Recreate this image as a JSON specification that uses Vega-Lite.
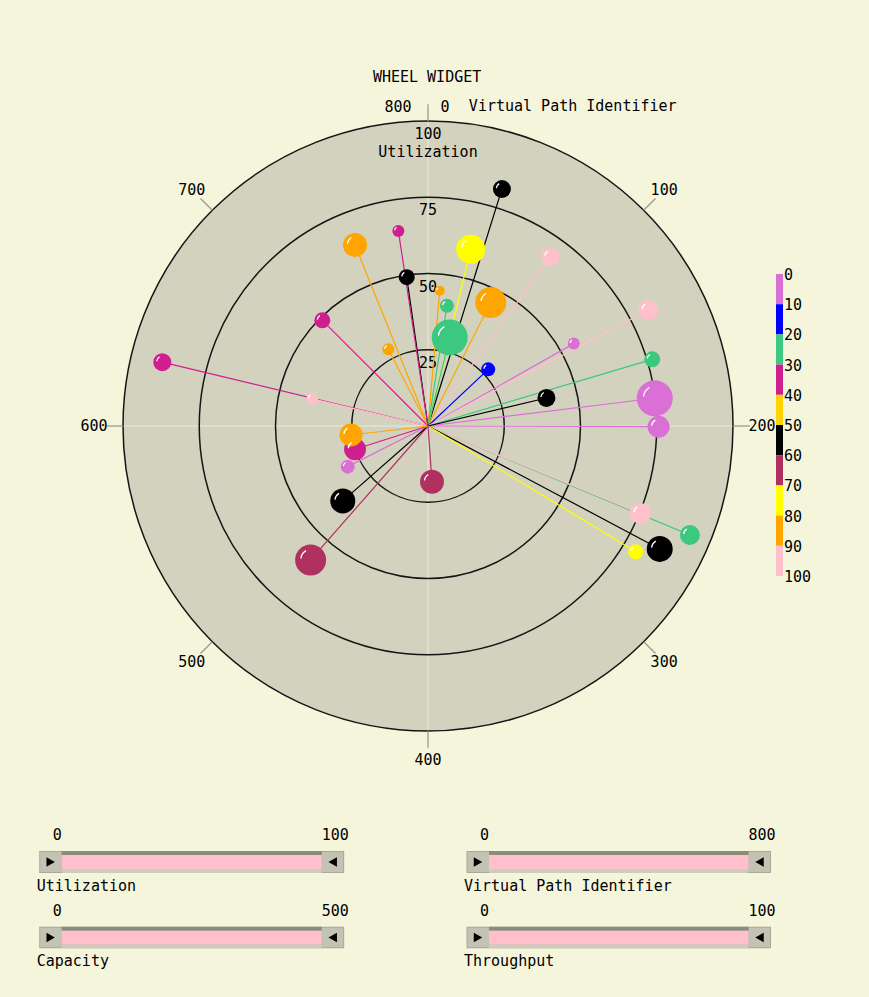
{
  "$schema": "https://vega.github.io/schema/vega-lite/v6.json",
  "width": 869,
  "height": 997,
  "autosize": {"type": "none"},
  "padding": 0,
  "background": "#f5f5dc",
  "config": {
    "view": {"stroke": null},
    "axis": {"disable": true},
    "text": {"font": "DejaVu Sans Mono", "fontSize": 15, "color": "#000000"}
  },
  "datasets": {
    "vc": [
      {"util": 81.4, "vpi": 38.5, "cap": 234, "thr": 55},
      {"util": 59.6, "vpi": 30.2, "cap": 377, "thr": 75},
      {"util": 68.5, "vpi": 79.7, "cap": 234, "thr": 95},
      {"util": 45.4, "vpi": 59.9, "cap": 403, "thr": 85},
      {"util": 44.5, "vpi": 11.0, "cap": 130, "thr": 85},
      {"util": 39.9, "vpi": 19.9, "cap": 182, "thr": 25},
      {"util": 29.9, "vpi": 30.6, "cap": 468, "thr": 25},
      {"util": 27.1, "vpi": 103.9, "cap": 182, "thr": 15},
      {"util": 54.9, "vpi": 134.5, "cap": 156, "thr": 5},
      {"util": 81.6, "vpi": 138.4, "cap": 260, "thr": 95},
      {"util": 76.7, "vpi": 163.2, "cap": 208, "thr": 25},
      {"util": 74.9, "vpi": 184.5, "cap": 468, "thr": 5},
      {"util": 75.6, "vpi": 200.4, "cap": 286, "thr": 5},
      {"util": 39.9, "vpi": 170.4, "cap": 234, "thr": 55},
      {"util": 93.0, "vpi": 250.2, "cap": 260, "thr": 25},
      {"util": 75.3, "vpi": 249.7, "cap": 273, "thr": 95},
      {"util": 86.0, "vpi": 262.1, "cap": 338, "thr": 55},
      {"util": 79.6, "vpi": 269.3, "cap": 195, "thr": 75},
      {"util": 18.3, "vpi": 390.9, "cap": 312, "thr": 65},
      {"util": 58.4, "vpi": 491.6, "cap": 403, "thr": 65},
      {"util": 37.2, "vpi": 508.2, "cap": 325, "thr": 55},
      {"util": 29.5, "vpi": 540.3, "cap": 182, "thr": 5},
      {"util": 25.1, "vpi": 560.7, "cap": 286, "thr": 35},
      {"util": 25.4, "vpi": 585.2, "cap": 299, "thr": 85},
      {"util": 89.6, "vpi": 630.0, "cap": 234, "thr": 35},
      {"util": 39.0, "vpi": 629.3, "cap": 156, "thr": 95},
      {"util": 49.0, "vpi": 700.0, "cap": 208, "thr": 35},
      {"util": 28.3, "vpi": 739.2, "cap": 156, "thr": 85},
      {"util": 64.0, "vpi": 751.2, "cap": 312, "thr": 85},
      {"util": 49.3, "vpi": 781.9, "cap": 208, "thr": 55},
      {"util": 64.7, "vpi": 780.8, "cap": 156, "thr": 35}
    ],
    "rings": [{"u": 25}, {"u": 50}, {"u": 75}, {"u": 100}],
    "spokes": [{"vpi": 0}, {"vpi": 100}, {"vpi": 200}, {"vpi": 300}, {"vpi": 400}, {"vpi": 500}, {"vpi": 600}, {"vpi": 700}],
    "blocks": [
      {"lo": 0, "hi": 10}, {"lo": 10, "hi": 20}, {"lo": 20, "hi": 30}, {"lo": 30, "hi": 40}, {"lo": 40, "hi": 50},
      {"lo": 50, "hi": 60}, {"lo": 60, "hi": 70}, {"lo": 70, "hi": 80}, {"lo": 80, "hi": 90}, {"lo": 90, "hi": 100}
    ],
    "legendTicks": [{"v": 0}, {"v": 10}, {"v": 20}, {"v": 30}, {"v": 40}, {"v": 50}, {"v": 60}, {"v": 70}, {"v": 80}, {"v": 90}, {"v": 100}]
  },
  "layer": [
    {
      "layer": [
        {
          "data": {"name": "rings"},
          "transform": [{"filter": "datum.u == 100"}, {"calculate": "0", "as": "c0"}],
          "mark": {"type": "point", "shape": "circle", "filled": true, "fill": "#d3d2be", "opacity": 1, "strokeWidth": 0},
          "encoding": {
            "x": {"field": "c0", "type": "quantitative", "scale": {"type": "linear", "domain": [-100, 100], "range": [123, 733], "nice": false, "zero": false}, "axis": null},
            "y": {"field": "c0", "type": "quantitative", "scale": {"type": "linear", "domain": [-100, 100], "range": [731, 121], "nice": false, "zero": false}, "axis": null},
            "size": {"field": "u", "type": "quantitative", "scale": {"type": "pow", "exponent": 2, "domain": [0, 100], "range": [0, 372100]}, "legend": null}
          }
        },
        {
          "data": {"name": "spokes"},
          "transform": [
            {"filter": "datum.vpi % 200 == 0"},
            {"calculate": "0", "as": "c0"},
            {"calculate": "100 * sin(datum.vpi / 800 * 2 * PI)", "as": "ax"},
            {"calculate": "100 * cos(datum.vpi / 800 * 2 * PI)", "as": "ay"}
          ],
          "mark": {"type": "rule", "color": "#ecebd8", "strokeWidth": 1},
          "encoding": {
            "x": {"field": "c0", "type": "quantitative"},
            "y": {"field": "c0", "type": "quantitative"},
            "x2": {"field": "ax"},
            "y2": {"field": "ay"}
          }
        },
        {
          "data": {"name": "rings"},
          "transform": [{"calculate": "0", "as": "c0"}],
          "mark": {"type": "point", "shape": "circle", "filled": false, "stroke": "#151515", "strokeWidth": 1.5, "opacity": 1},
          "encoding": {
            "x": {"field": "c0", "type": "quantitative"},
            "y": {"field": "c0", "type": "quantitative"},
            "size": {"field": "u", "type": "quantitative", "scale": {"type": "pow", "exponent": 2, "domain": [0, 100], "range": [0, 372100]}, "legend": null}
          }
        },
        {
          "data": {"name": "spokes"},
          "transform": [
            {"calculate": "100 * sin(datum.vpi / 800 * 2 * PI)", "as": "ax"},
            {"calculate": "100 * cos(datum.vpi / 800 * 2 * PI)", "as": "ay"},
            {"calculate": "105.5 * sin(datum.vpi / 800 * 2 * PI)", "as": "bx"},
            {"calculate": "105.5 * cos(datum.vpi / 800 * 2 * PI)", "as": "by"}
          ],
          "mark": {"type": "rule", "color": "#9a9a8a", "strokeWidth": 1.3},
          "encoding": {
            "x": {"field": "ax", "type": "quantitative"},
            "y": {"field": "ay", "type": "quantitative"},
            "x2": {"field": "bx"},
            "y2": {"field": "by"}
          }
        },
        {
          "data": {"name": "spokes"},
          "transform": [
            {"filter": "datum.vpi > 0"},
            {"calculate": "109.5 * sin(datum.vpi / 800 * 2 * PI)", "as": "lx"},
            {"calculate": "109.5 * cos(datum.vpi / 800 * 2 * PI)", "as": "ly"}
          ],
          "mark": {"type": "text", "align": "center", "baseline": "middle"},
          "encoding": {
            "x": {"field": "lx", "type": "quantitative"},
            "y": {"field": "ly", "type": "quantitative"},
            "text": {"field": "vpi", "type": "quantitative"}
          }
        },
        {
          "data": {"values": [{"t": "0"}]},
          "mark": {"type": "text", "align": "center", "baseline": "middle", "dx": 17},
          "encoding": {"x": {"datum": 0, "type": "quantitative"}, "y": {"datum": 104.6, "type": "quantitative"}, "text": {"field": "t", "type": "nominal"}}
        },
        {
          "data": {"values": [{"t": "800"}]},
          "mark": {"type": "text", "align": "center", "baseline": "middle", "dx": -30},
          "encoding": {"x": {"datum": 0, "type": "quantitative"}, "y": {"datum": 104.6, "type": "quantitative"}, "text": {"field": "t", "type": "nominal"}}
        },
        {
          "data": {"values": [{"t": "Virtual Path Identifier"}]},
          "mark": {"type": "text", "align": "left", "baseline": "middle"},
          "encoding": {"x": {"datum": 13.4, "type": "quantitative"}, "y": {"datum": 104.9, "type": "quantitative"}, "text": {"field": "t", "type": "nominal"}}
        },
        {
          "data": {"values": [{"t": "WHEEL WIDGET"}]},
          "mark": {"type": "text", "align": "center", "baseline": "middle"},
          "encoding": {"x": {"datum": -0.3, "type": "quantitative"}, "y": {"datum": 114.4, "type": "quantitative"}, "text": {"field": "t", "type": "nominal"}}
        },
        {
          "data": {"name": "rings"},
          "mark": {"type": "text", "align": "center", "baseline": "middle", "dy": 13},
          "encoding": {"x": {"datum": 0, "type": "quantitative"}, "y": {"field": "u", "type": "quantitative"}, "text": {"field": "u", "type": "quantitative"}}
        },
        {
          "data": {"values": [{"t": "Utilization"}]},
          "mark": {"type": "text", "align": "center", "baseline": "middle", "dy": 31},
          "encoding": {"x": {"datum": 0, "type": "quantitative"}, "y": {"datum": 100, "type": "quantitative"}, "text": {"field": "t", "type": "nominal"}}
        },
        {
          "data": {"name": "vc"},
          "transform": [
            {"calculate": "0", "as": "c0"},
            {"calculate": "datum.util * sin(datum.vpi / 800 * 2 * PI)", "as": "px"},
            {"calculate": "datum.util * cos(datum.vpi / 800 * 2 * PI)", "as": "py"}
          ],
          "mark": {"type": "rule", "strokeWidth": 1.2},
          "encoding": {
            "x": {"field": "c0", "type": "quantitative"},
            "y": {"field": "c0", "type": "quantitative"},
            "x2": {"field": "px"},
            "y2": {"field": "py"},
            "color": {"field": "thr", "type": "quantitative", "scale": {"type": "threshold", "domain": [10, 20, 30, 40, 50, 60, 70, 80, 90], "range": ["#da70d6", "#0000ff", "#3cc87f", "#cf1f8f", "#ffd200", "#000000", "#b03060", "#ffff00", "#ffa500", "#ffc0cb"]}, "legend": null}
          }
        },
        {
          "data": {"name": "vc"},
          "transform": [
            {"calculate": "datum.util * sin(datum.vpi / 800 * 2 * PI)", "as": "px"},
            {"calculate": "datum.util * cos(datum.vpi / 800 * 2 * PI)", "as": "py"}
          ],
          "mark": {"type": "point", "shape": "circle", "filled": true, "opacity": 1, "strokeWidth": 0},
          "encoding": {
            "x": {"field": "px", "type": "quantitative"},
            "y": {"field": "py", "type": "quantitative"},
            "size": {"field": "cap", "type": "quantitative", "scale": {"type": "pow", "exponent": 2, "domain": [0, 500], "range": [0, 1479]}, "legend": null},
            "color": {"field": "thr", "type": "quantitative", "scale": {"type": "threshold", "domain": [10, 20, 30, 40, 50, 60, 70, 80, 90], "range": ["#da70d6", "#0000ff", "#3cc87f", "#cf1f8f", "#ffd200", "#000000", "#b03060", "#ffff00", "#ffa500", "#ffc0cb"]}, "legend": null}
          }
        },
        {
          "data": {"name": "vc"},
          "transform": [
            {"calculate": "datum.util * sin(datum.vpi / 800 * 2 * PI)", "as": "px"},
            {"calculate": "datum.util * cos(datum.vpi / 800 * 2 * PI)", "as": "py"}
          ],
          "mark": {"type": "point", "shape": "M-0.62,-0.1 Q-0.6,-0.42 -0.3,-0.6", "filled": false, "stroke": "#ffffff", "strokeWidth": 1.3, "opacity": 1},
          "encoding": {
            "x": {"field": "px", "type": "quantitative"},
            "y": {"field": "py", "type": "quantitative"},
            "size": {"field": "cap", "type": "quantitative", "scale": {"type": "pow", "exponent": 2, "domain": [0, 500], "range": [0, 1479]}, "legend": null}
          }
        }
      ],
      "resolve": {"scale": {"size": "independent", "color": "independent"}}
    },
    {
      "layer": [
        {
          "data": {"name": "blocks"},
          "transform": [{"calculate": "0", "as": "c0"}, {"calculate": "1", "as": "c1"}],
          "mark": {"type": "rect"},
          "encoding": {
            "x": {"field": "c0", "type": "quantitative", "scale": {"type": "linear", "domain": [0, 1], "range": [776, 783], "nice": false, "zero": false}, "axis": null},
            "x2": {"field": "c1"},
            "y": {"field": "lo", "type": "quantitative", "scale": {"type": "linear", "domain": [0, 100], "range": [274, 576], "nice": false, "zero": false}, "axis": null},
            "y2": {"field": "hi"},
            "color": {"field": "lo", "type": "quantitative", "scale": {"type": "threshold", "domain": [10, 20, 30, 40, 50, 60, 70, 80, 90], "range": ["#da70d6", "#0000ff", "#3cc87f", "#cf1f8f", "#ffd200", "#000000", "#b03060", "#ffff00", "#ffa500", "#ffc0cb"]}, "legend": null}
          }
        },
        {
          "data": {"name": "legendTicks"},
          "transform": [{"calculate": "1", "as": "c1"}],
          "mark": {"type": "text", "align": "left", "baseline": "middle", "dx": 1, "dy": 1},
          "encoding": {
            "x": {"field": "c1", "type": "quantitative"},
            "y": {"field": "v", "type": "quantitative"},
            "text": {"field": "v", "type": "quantitative"}
          }
        }
      ]
    },
    {
      "data": {"values": [{"name": "Utilization", "min": 0, "max": 100}]},
      "transform": [{"calculate": "0", "as": "b"}, {"calculate": "1", "as": "t"}, {"calculate": "0.5", "as": "m"}],
      "encoding": {
        "x": {"field": "min", "type": "quantitative", "scale": {"type": "linear", "domain": [0, 100], "range": [61.7, 321.7], "nice": false, "zero": false}, "axis": null},
        "y": {"field": "b", "type": "quantitative", "scale": {"type": "linear", "domain": [0, 1], "range": [873, 851], "nice": false, "zero": false}, "axis": null}
      },
      "layer": [
        {"mark": {"type": "rect", "fill": "#a9a999", "xOffset": -22.5, "x2Offset": 22.5}, "encoding": {"x2": {"field": "max"}, "y2": {"field": "t"}}},
        {"mark": {"type": "rect", "fill": "#c3c3b3", "xOffset": -21.5, "yOffset": -1, "y2Offset": 1}, "encoding": {"x2": {"field": "min"}, "y2": {"field": "t"}}},
        {"mark": {"type": "rect", "fill": "#c3c3b3", "x2Offset": 21.5, "yOffset": -1, "y2Offset": 1}, "encoding": {"x": {"field": "max", "type": "quantitative"}, "x2": {"field": "max"}, "y2": {"field": "t"}}},
        {"mark": {"type": "rect", "fill": "#8c8c7c", "y2Offset": 4}, "encoding": {"x2": {"field": "max"}, "y": {"field": "t", "type": "quantitative"}, "y2": {"field": "t"}}},
        {"mark": {"type": "rect", "fill": "#cdcdbd", "yOffset": -4}, "encoding": {"x2": {"field": "max"}, "y2": {"field": "b"}}},
        {"mark": {"type": "rect", "fill": "#ffc0cb", "yOffset": -3.7, "y2Offset": 4}, "encoding": {"x2": {"field": "max"}, "y2": {"field": "t"}}},
        {"mark": {"type": "point", "shape": "triangle-right", "filled": true, "fill": "#000000", "opacity": 1, "size": 95, "xOffset": -11, "strokeWidth": 0}, "encoding": {"y": {"field": "m", "type": "quantitative"}}},
        {"mark": {"type": "point", "shape": "triangle-left", "filled": true, "fill": "#000000", "opacity": 1, "size": 95, "xOffset": 11, "strokeWidth": 0}, "encoding": {"x": {"field": "max", "type": "quantitative"}, "y": {"field": "m", "type": "quantitative"}}},
        {"mark": {"type": "text", "align": "right", "baseline": "middle", "dy": -16}, "encoding": {"y": {"field": "t", "type": "quantitative"}, "text": {"field": "min", "type": "quantitative"}}},
        {"mark": {"type": "text", "align": "left", "baseline": "middle", "dy": -16}, "encoding": {"x": {"field": "max", "type": "quantitative"}, "y": {"field": "t", "type": "quantitative"}, "text": {"field": "max", "type": "quantitative"}}},
        {"mark": {"type": "text", "align": "left", "baseline": "middle", "dx": -25, "dy": 13}, "encoding": {"text": {"field": "name", "type": "nominal"}}}
      ]
    },
    {
      "data": {"values": [{"name": "Capacity", "min": 0, "max": 500}]},
      "transform": [{"calculate": "0", "as": "b"}, {"calculate": "1", "as": "t"}, {"calculate": "0.5", "as": "m"}],
      "encoding": {
        "x": {"field": "min", "type": "quantitative", "scale": {"type": "linear", "domain": [0, 500], "range": [61.7, 321.7], "nice": false, "zero": false}, "axis": null},
        "y": {"field": "b", "type": "quantitative", "scale": {"type": "linear", "domain": [0, 1], "range": [948.3, 926.7], "nice": false, "zero": false}, "axis": null}
      },
      "layer": [
        {"mark": {"type": "rect", "fill": "#a9a999", "xOffset": -22.5, "x2Offset": 22.5}, "encoding": {"x2": {"field": "max"}, "y2": {"field": "t"}}},
        {"mark": {"type": "rect", "fill": "#c3c3b3", "xOffset": -21.5, "yOffset": -1, "y2Offset": 1}, "encoding": {"x2": {"field": "min"}, "y2": {"field": "t"}}},
        {"mark": {"type": "rect", "fill": "#c3c3b3", "x2Offset": 21.5, "yOffset": -1, "y2Offset": 1}, "encoding": {"x": {"field": "max", "type": "quantitative"}, "x2": {"field": "max"}, "y2": {"field": "t"}}},
        {"mark": {"type": "rect", "fill": "#8c8c7c", "y2Offset": 4}, "encoding": {"x2": {"field": "max"}, "y": {"field": "t", "type": "quantitative"}, "y2": {"field": "t"}}},
        {"mark": {"type": "rect", "fill": "#cdcdbd", "yOffset": -4}, "encoding": {"x2": {"field": "max"}, "y2": {"field": "b"}}},
        {"mark": {"type": "rect", "fill": "#ffc0cb", "yOffset": -3.7, "y2Offset": 4}, "encoding": {"x2": {"field": "max"}, "y2": {"field": "t"}}},
        {"mark": {"type": "point", "shape": "triangle-right", "filled": true, "fill": "#000000", "opacity": 1, "size": 95, "xOffset": -11, "strokeWidth": 0}, "encoding": {"y": {"field": "m", "type": "quantitative"}}},
        {"mark": {"type": "point", "shape": "triangle-left", "filled": true, "fill": "#000000", "opacity": 1, "size": 95, "xOffset": 11, "strokeWidth": 0}, "encoding": {"x": {"field": "max", "type": "quantitative"}, "y": {"field": "m", "type": "quantitative"}}},
        {"mark": {"type": "text", "align": "right", "baseline": "middle", "dy": -16}, "encoding": {"y": {"field": "t", "type": "quantitative"}, "text": {"field": "min", "type": "quantitative"}}},
        {"mark": {"type": "text", "align": "left", "baseline": "middle", "dy": -16}, "encoding": {"x": {"field": "max", "type": "quantitative"}, "y": {"field": "t", "type": "quantitative"}, "text": {"field": "max", "type": "quantitative"}}},
        {"mark": {"type": "text", "align": "left", "baseline": "middle", "dx": -25, "dy": 13}, "encoding": {"text": {"field": "name", "type": "nominal"}}}
      ]
    },
    {
      "data": {"values": [{"name": "Virtual Path Identifier", "min": 0, "max": 800}]},
      "transform": [{"calculate": "0", "as": "b"}, {"calculate": "1", "as": "t"}, {"calculate": "0.5", "as": "m"}],
      "encoding": {
        "x": {"field": "min", "type": "quantitative", "scale": {"type": "linear", "domain": [0, 800], "range": [489, 748.5], "nice": false, "zero": false}, "axis": null},
        "y": {"field": "b", "type": "quantitative", "scale": {"type": "linear", "domain": [0, 1], "range": [873, 851], "nice": false, "zero": false}, "axis": null}
      },
      "layer": [
        {"mark": {"type": "rect", "fill": "#a9a999", "xOffset": -22.5, "x2Offset": 22.5}, "encoding": {"x2": {"field": "max"}, "y2": {"field": "t"}}},
        {"mark": {"type": "rect", "fill": "#c3c3b3", "xOffset": -21.5, "yOffset": -1, "y2Offset": 1}, "encoding": {"x2": {"field": "min"}, "y2": {"field": "t"}}},
        {"mark": {"type": "rect", "fill": "#c3c3b3", "x2Offset": 21.5, "yOffset": -1, "y2Offset": 1}, "encoding": {"x": {"field": "max", "type": "quantitative"}, "x2": {"field": "max"}, "y2": {"field": "t"}}},
        {"mark": {"type": "rect", "fill": "#8c8c7c", "y2Offset": 4}, "encoding": {"x2": {"field": "max"}, "y": {"field": "t", "type": "quantitative"}, "y2": {"field": "t"}}},
        {"mark": {"type": "rect", "fill": "#cdcdbd", "yOffset": -4}, "encoding": {"x2": {"field": "max"}, "y2": {"field": "b"}}},
        {"mark": {"type": "rect", "fill": "#ffc0cb", "yOffset": -3.7, "y2Offset": 4}, "encoding": {"x2": {"field": "max"}, "y2": {"field": "t"}}},
        {"mark": {"type": "point", "shape": "triangle-right", "filled": true, "fill": "#000000", "opacity": 1, "size": 95, "xOffset": -11, "strokeWidth": 0}, "encoding": {"y": {"field": "m", "type": "quantitative"}}},
        {"mark": {"type": "point", "shape": "triangle-left", "filled": true, "fill": "#000000", "opacity": 1, "size": 95, "xOffset": 11, "strokeWidth": 0}, "encoding": {"x": {"field": "max", "type": "quantitative"}, "y": {"field": "m", "type": "quantitative"}}},
        {"mark": {"type": "text", "align": "right", "baseline": "middle", "dy": -16}, "encoding": {"y": {"field": "t", "type": "quantitative"}, "text": {"field": "min", "type": "quantitative"}}},
        {"mark": {"type": "text", "align": "left", "baseline": "middle", "dy": -16}, "encoding": {"x": {"field": "max", "type": "quantitative"}, "y": {"field": "t", "type": "quantitative"}, "text": {"field": "max", "type": "quantitative"}}},
        {"mark": {"type": "text", "align": "left", "baseline": "middle", "dx": -25, "dy": 13}, "encoding": {"text": {"field": "name", "type": "nominal"}}}
      ]
    },
    {
      "data": {"values": [{"name": "Throughput", "min": 0, "max": 100}]},
      "transform": [{"calculate": "0", "as": "b"}, {"calculate": "1", "as": "t"}, {"calculate": "0.5", "as": "m"}],
      "encoding": {
        "x": {"field": "min", "type": "quantitative", "scale": {"type": "linear", "domain": [0, 100], "range": [489, 748.5], "nice": false, "zero": false}, "axis": null},
        "y": {"field": "b", "type": "quantitative", "scale": {"type": "linear", "domain": [0, 1], "range": [948.3, 926.7], "nice": false, "zero": false}, "axis": null}
      },
      "layer": [
        {"mark": {"type": "rect", "fill": "#a9a999", "xOffset": -22.5, "x2Offset": 22.5}, "encoding": {"x2": {"field": "max"}, "y2": {"field": "t"}}},
        {"mark": {"type": "rect", "fill": "#c3c3b3", "xOffset": -21.5, "yOffset": -1, "y2Offset": 1}, "encoding": {"x2": {"field": "min"}, "y2": {"field": "t"}}},
        {"mark": {"type": "rect", "fill": "#c3c3b3", "x2Offset": 21.5, "yOffset": -1, "y2Offset": 1}, "encoding": {"x": {"field": "max", "type": "quantitative"}, "x2": {"field": "max"}, "y2": {"field": "t"}}},
        {"mark": {"type": "rect", "fill": "#8c8c7c", "y2Offset": 4}, "encoding": {"x2": {"field": "max"}, "y": {"field": "t", "type": "quantitative"}, "y2": {"field": "t"}}},
        {"mark": {"type": "rect", "fill": "#cdcdbd", "yOffset": -4}, "encoding": {"x2": {"field": "max"}, "y2": {"field": "b"}}},
        {"mark": {"type": "rect", "fill": "#ffc0cb", "yOffset": -3.7, "y2Offset": 4}, "encoding": {"x2": {"field": "max"}, "y2": {"field": "t"}}},
        {"mark": {"type": "point", "shape": "triangle-right", "filled": true, "fill": "#000000", "opacity": 1, "size": 95, "xOffset": -11, "strokeWidth": 0}, "encoding": {"y": {"field": "m", "type": "quantitative"}}},
        {"mark": {"type": "point", "shape": "triangle-left", "filled": true, "fill": "#000000", "opacity": 1, "size": 95, "xOffset": 11, "strokeWidth": 0}, "encoding": {"x": {"field": "max", "type": "quantitative"}, "y": {"field": "m", "type": "quantitative"}}},
        {"mark": {"type": "text", "align": "right", "baseline": "middle", "dy": -16}, "encoding": {"y": {"field": "t", "type": "quantitative"}, "text": {"field": "min", "type": "quantitative"}}},
        {"mark": {"type": "text", "align": "left", "baseline": "middle", "dy": -16}, "encoding": {"x": {"field": "max", "type": "quantitative"}, "y": {"field": "t", "type": "quantitative"}, "text": {"field": "max", "type": "quantitative"}}},
        {"mark": {"type": "text", "align": "left", "baseline": "middle", "dx": -25, "dy": 13}, "encoding": {"text": {"field": "name", "type": "nominal"}}}
      ]
    }
  ],
  "resolve": {"scale": {"x": "independent", "y": "independent", "size": "independent", "color": "independent"}}
}
